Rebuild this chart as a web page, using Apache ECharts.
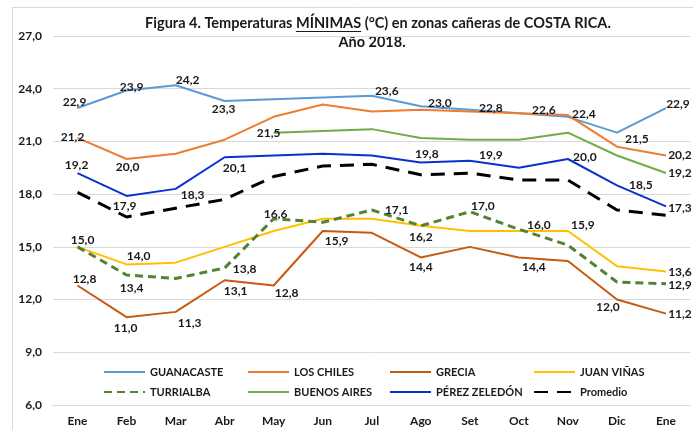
<!DOCTYPE html>
<html lang="es">
<head>
    <meta charset="UTF-8">
    <title>Temperaturas mínimas 2018</title>
    <script src="https://cdn.jsdelivr.net/npm/echarts@6/dist/echarts.min.js"></script>
    <style>
        * {
            margin: 0;
            padding: 0
        }

        html, body {
            width: 100%;
            height: 100%;
            background: #fff;
        }

        #main {
            width: 693px;
            height: 430px;
        }
    </style>
</head>
<body>
<div id="main"></div>
<script type="text/javascript">
    /*-------------------- datos --------------------*/
    var meses = ['Ene', 'Feb', 'Mar', 'Abr', 'May', 'Jun', 'Jul', 'Ago', 'Set', 'Oct', 'Nov', 'Dic', 'Ene'];
    var guanacaste = [22.9, 23.9, 24.2, 23.3, 23.4, 23.5, 23.6, 23.0, 22.8, 22.6, 22.4, 21.5, 22.9];
    var losChiles = [21.2, 20.0, 20.3, 21.1, 22.4, 23.1, 22.7, 22.8, 22.7, 22.6, 22.5, 20.7, 20.2];
    var grecia = [12.8, 11.0, 11.3, 13.1, 12.8, 15.9, 15.8, 14.4, 15.0, 14.4, 14.2, 12.0, 11.2];
    var juanVinas = [15.0, 14.0, 14.1, 15.0, 15.9, 16.6, 16.6, 16.2, 15.9, 15.9, 15.9, 13.9, 13.6];
    var turrialba = [15.0, 13.4, 13.2, 13.8, 16.6, 16.4, 17.1, 16.2, 17.0, 16.0, 15.1, 13.0, 12.9];
    var buenosAires = [null, null, null, null, 21.5, 21.6, 21.7, 21.2, 21.1, 21.1, 21.5, 20.2, 19.2];
    var perezZeledon = [19.2, 17.9, 18.3, 20.1, 20.2, 20.3, 20.2, 19.8, 19.9, 19.5, 20.0, 18.5, 17.3];
    var promedio = [18.1, 16.7, 17.2, 17.7, 19.0, 19.6, 19.7, 19.1, 19.2, 18.8, 18.8, 17.1, 16.8];
    var ejeY = {min: 6, max: 27, interval: 3};

    // etiquetas visibles: indice -> desplazamiento [dx, dy] desde el punto
    var etqGuanacaste = {0: [-3, -6], 1: [5, -3], 2: [12, -5], 3: [-1, 8], 6: [15, -5], 7: [19, -3],
        8: [21, -2], 9: [25, -3], 10: [16, -3], 11: [20, 6], 12: [12, -4]};
    var etqLosChiles = {0: [-5, -1], 1: [1, 8], 12: [14, 0]};
    var etqGrecia = {0: [7, -6], 1: [-1, 11], 2: [14, 11], 3: [11, 11], 4: [13, 8], 5: [14, 10],
        7: [0, 10], 9: [15, 10], 11: [-9, 8], 12: [14, 0]};
    var etqJuanVinas = {1: [12, -8], 10: [15, -6], 12: [14, 1]};
    var etqTurrialba = {0: [5, -7], 1: [5, 13], 3: [20, 1], 4: [2, -5], 6: [25, 0], 7: [0, 11],
        8: [13, -6], 9: [20, -4], 12: [14, 1]};
    var etqBuenosAires = {4: [-5, 0], 12: [14, 0]};
    var etqPerezZeledon = {0: [-1, -8], 1: [-2, 10], 2: [17, 6], 3: [10, 11], 7: [6, -8], 8: [21, -6],
        10: [17, -2], 11: [24, 0], 12: [14, 2]};

    var fuente = 'Lato';
    var coma = function (v) {
        return Number(v).toFixed(1).replace('.', ',');
    };

    function serie(nombre, datos, color, etq, ancho, trazo) {
        return {
            name: nombre,
            type: 'line',
            color: color,
            symbol: 'circle',
            symbolSize: 2,
            itemStyle: {color: color, opacity: 0},
            lineStyle: {color: color, width: ancho, type: trazo || 'solid'},
            connectNulls: false,
            animation: false,
            label: {
                show: false,
                position: 'inside',
                opacity: 1,
                color: '#1a1a1a',
                fontFamily: fuente,
                fontWeight: 'bold',
                fontSize: 12,
                formatter: function (p) {
                    return coma(p.value);
                }
            },
            data: datos.map(function (v, i) {
                var item = {value: v};
                if (etq[i]) {
                    item.label = {show: true, offset: etq[i]};
                }
                return item;
            })
        };
    }

    var myChart = echarts.init(document.getElementById('main'));

    // posicion del subrayado de MÍNIMAS
    var tituloFont = 'bold 14.5px ' + fuente;
    var linea1 = 'Figura 4. Temperaturas MÍNIMAS (°C) en zonas cañeras de COSTA RICA.';
    var ctx = document.createElement('canvas').getContext('2d');
    ctx.font = tituloFont;
    var wTotal = ctx.measureText(linea1).width;
    var wPre = ctx.measureText('Figura 4. Temperaturas ').width;
    var wMin = ctx.measureText('MÍNIMAS').width;
    var cx = 378;
    var xMin = cx - wTotal / 2 + wPre;

    var leyendaBase = {
        orient: 'vertical',
        top: 366,
        padding: 0,
        itemWidth: 41,
        itemHeight: 12,
        itemGap: 8,
        itemStyle: {opacity: 0},
        textStyle: {fontFamily: fuente, fontWeight: 'bold', fontSize: 11, color: '#1a1a1a', lineHeight: 12}
    };
    function leyenda(x, nombres) {
        return Object.assign({}, leyendaBase, {left: x, data: nombres});
    }

    myChart.setOption({
        backgroundColor: '#fff',
        animation: false,
        graphic: [
            {
                type: 'rect', silent: true, z: -10,
                shape: {x: 12.5, y: 7.5, width: 700, height: 440},
                style: {fill: 'none', stroke: '#d9d9d9', lineWidth: 1}
            },
            {
                type: 'text', left: cx - wTotal / 2, top: 16,
                style: {text: linea1, font: tituloFont, fill: '#1a1a1a'}
            },
            {
                type: 'text', x: 372, y: 42,
                style: {text: 'Año 2018.', font: tituloFont, fill: '#1a1a1a', align: 'center', verticalAlign: 'middle'}
            },
            {
                type: 'line',
                shape: {x1: xMin, y1: 31.5, x2: xMin + wMin, y2: 31.5},
                style: {stroke: '#1a1a1a', lineWidth: 1}
            }
        ],
        grid: {left: 53, right: 2.5, top: 36, bottom: 25},
        legend: [
            leyenda(103, ['GUANACASTE', 'TURRIALBA']),
            leyenda(247, ['LOS CHILES', 'BUENOS AIRES']),
            leyenda(389, ['GRECIA', 'PÉREZ ZELEDÓN']),
            leyenda(533, ['JUAN VIÑAS', 'Promedio'])
        ],
        xAxis: {
            type: 'category',
            data: meses,
            boundaryGap: true,
            axisLine: {lineStyle: {color: '#d9d9d9'}},
            axisTick: {show: false},
            axisLabel: {
                interval: 0, margin: 10,
                fontFamily: fuente, fontWeight: 'bold', fontSize: 12, color: '#1a1a1a'
            }
        },
        yAxis: {
            type: 'value',
            min: ejeY.min,
            max: ejeY.max,
            interval: ejeY.interval,
            axisLine: {show: false},
            axisTick: {show: false},
            splitLine: {lineStyle: {color: '#d9d9d9'}},
            axisLabel: {
                margin: 11, formatter: coma,
                fontFamily: fuente, fontWeight: 'bold', fontSize: 12, color: '#1a1a1a'
            }
        },
        series: [
            serie('GUANACASTE', guanacaste, '#5B9BD5', etqGuanacaste, 2),
            serie('LOS CHILES', losChiles, '#ED7D31', etqLosChiles, 2),
            serie('GRECIA', grecia, '#C55A11', etqGrecia, 2),
            serie('JUAN VIÑAS', juanVinas, '#FFC000', etqJuanVinas, 2),
            serie('TURRIALBA', turrialba, '#548235', etqTurrialba, 3, [8, 5]),
            serie('BUENOS AIRES', buenosAires, '#70AD47', etqBuenosAires, 2),
            serie('PÉREZ ZELEDÓN', perezZeledon, '#0A32D2', etqPerezZeledon, 2),
            serie('Promedio', promedio, '#000000', {}, 3, [14, 9])
        ]
    });
</script>
</body>
</html>
